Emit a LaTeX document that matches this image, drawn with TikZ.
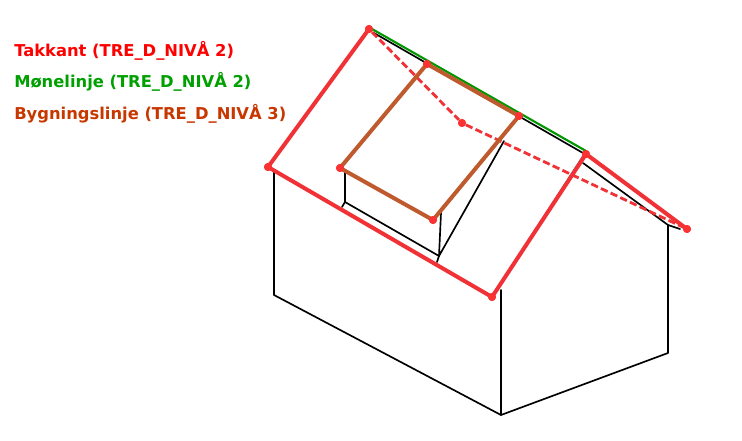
\documentclass[tikz,border=0pt]{standalone}
\usepackage{fontspec}
\setmainfont{DejaVu Sans}
\definecolor{takk}{RGB}{240,50,54}
\definecolor{dot}{RGB}{250,50,50}
\definecolor{bygg}{RGB}{190,90,45}
\definecolor{mone}{RGB}{0,150,0}
\tikzset{
  wall/.style={draw=black,line width=1.25pt,line cap=round,line join=round},
  eave/.style={draw=takk,line width=3pt,line cap=round,line join=round},
  eavedash/.style={draw=takk,line width=2.1pt,dash pattern=on 5.5pt off 2.5pt},
  dormer/.style={draw=bygg,line width=3pt,line cap=round,line join=round},
  ridge/.style={draw=mone,line width=1.6pt},
  vertex/.style={circle,fill=dot,inner sep=0pt,minimum size=6pt},
  legend/.style={anchor=base west,inner sep=0pt,font=\bfseries\fontsize{12.25pt}{14pt}\selectfont}
}
\begin{document}
\begin{tikzpicture}[x=0.75pt,y=-0.75pt]
\useasboundingbox (0,0) rectangle (742,441);
% house corners
\coordinate (w1) at (274,170);
\coordinate (w2) at (274,295);
\coordinate (w3) at (501,415);
\coordinate (w4) at (668,353);
\coordinate (w5) at (668,225);
\coordinate (w6) at (501,290);
\coordinate (r1) at (374,33);
\coordinate (r2) at (583,153);
\coordinate (g1) at (372,29);
\coordinate (g2) at (586,151);
\coordinate (s1) at (583,163);
\coordinate (s2) at (680,229);
\coordinate (gb1) at (493,295);
\coordinate (gb2) at (584,154);
% dormer walls
\coordinate (d1) at (345,172);
\coordinate (d2) at (345,202);
\coordinate (d3) at (342,207);
\coordinate (d4) at (439,256);
\coordinate (d5) at (437,262);
\coordinate (d6) at (441,213);
\coordinate (d7) at (504,141);
% walls
\draw[wall] (w1) -- (w2) -- (w3) -- (w4) -- (w5);
\draw[wall] (w3) -- (w6);
\draw[wall] (r1) -- (r2);
\draw[wall] (s1) -- (w5) -- (s2);
\draw[draw=black!60,line width=.8pt] (gb1) -- (gb2);
\draw[wall] (d1) -- (d2) -- (d3);
\draw[wall] (d2) -- (d4) -- (d5);
\draw[wall] (d6) -- (d4) -- (d7);
\draw[ridge] (g1) -- (g2);
% roof vertices
\node[vertex] (a) at (369,29) {};
\node[vertex] (b) at (586,154) {};
\node[vertex] (c) at (268,167) {};
\node[vertex] (e) at (492,297) {};
\node[vertex] (f) at (687,229) {};
\node[vertex] (m) at (462,123) {};
\node[vertex] (p) at (427,64) {};
\node[vertex] (q) at (519,116) {};
\node[vertex] (u) at (340,168) {};
\node[vertex] (v) at (433,220) {};
\draw[eavedash] (a) -- (m) -- (f);
\draw[dormer] (p.center) -- (q.center) -- (v.center) -- (u.center) -- cycle;
\draw[eave] (f.center) -- (b.center) -- (e.center) -- (c.center) -- (a.center);
\foreach \n in {a,b,c,e,f,m,p,q,u,v} \node[vertex] at (\n) {};
% legend
\node[legend,text=red] (l1) at (14,56.5) {Takkant (TRE\_D\_NIVÅ 2)};
\node[legend,text={rgb,255:red,0;green,160;blue,0}] (l2) at (14,87.5) {Mønelinje (TRE\_D\_NIVÅ 2)};
\node[legend,text={rgb,255:red,200;green,55;blue,0}] (l3) at (14,119.5) {Bygningslinje (TRE\_D\_NIVÅ 3)};
\end{tikzpicture}
\end{document}
